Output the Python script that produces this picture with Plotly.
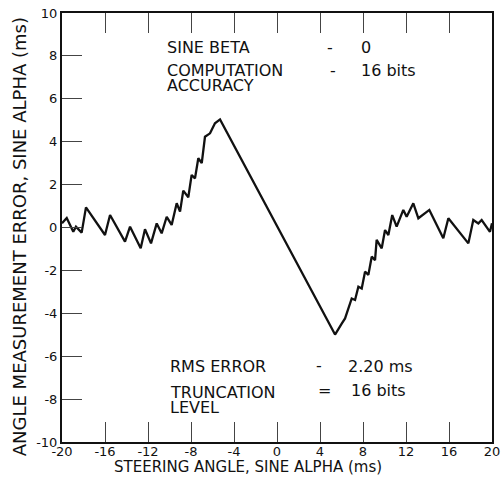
import plotly.graph_objects as go

steer = [-20.0, -19.56, -18.95, -18.7, -18.17, -17.77, -16.0, -15.53, -14.14, -13.67,
         -12.68, -12.28, -11.72, -11.19, -10.73, -10.26, -9.8, -9.33, -9.02, -8.72,
         -8.25, -7.94, -7.63, -7.32, -7.0, -6.7, -6.23, -5.77, -5.3,
         5.4, 6.02, 6.33, 6.95, 7.26, 7.57, 7.88, 8.19, 8.5, 8.81, 9.12, 9.27, 9.74,
         10.05, 10.36, 10.72, 11.13, 11.75, 12.06, 12.68, 13.15, 14.17, 15.47, 15.94,
         17.8, 18.26, 18.73, 19.04, 19.81, 20.0]
error = [0.2, 0.44, -0.2, 0.04, -0.24, 0.94, -0.35, 0.58, -0.66, 0.04,
         -0.97, -0.08, -0.74, 0.19, -0.27, 0.5, 0.12, 1.13, 0.74, 1.72,
         1.41, 2.45, 2.29, 3.23, 3.0, 4.23, 4.39, 4.86, 5.04,
         -4.99, -4.48, -4.24, -3.31, -3.38, -2.76, -2.84, -2.06, -2.21, -1.36, -1.52, -0.58, -0.97,
         -0.12, -0.35, 0.58, 0.04, 0.82, 0.5, 1.13, 0.43, 0.82, -0.5, 0.43,
         -0.74, 0.35, 0.19, 0.35, -0.2, 0.2]

x_ticks = [-20, -16, -12, -8, -4, 0, 4, 8, 12, 16, 20]
y_ticks = [-10, -8, -6, -4, -2, 0, 2, 4, 6, 8, 10]

x_title = "STEERING ANGLE, SINE ALPHA (ms)"
y_title = "ANGLE MEASUREMENT ERROR, SINE ALPHA (ms)"

FONT = "DejaVu Sans"
INK = "#111111"

fig = go.Figure()
fig.add_trace(go.Scatter(x=steer, y=error, mode="lines",
                         line=dict(color=INK, width=2.3), showlegend=False,
                         hoverinfo="skip"))

notes = [
    ("SINE BETA", -10.4, 8.41),
    ("-", 4.5, 8.41),
    ("0", 7.6, 8.41),
    ("COMPUTATION", -10.4, 7.3),
    ("ACCURACY", -10.4, 6.64),
    ("-", 4.7, 7.3),
    ("16 bits", 7.6, 7.3),
    ("RMS ERROR", -10.1, -6.5),
    ("-", 3.4, -6.45),
    ("2.20 ms", 6.4, -6.46),
    ("TRUNCATION", -10.1, -7.67),
    ("LEVEL", -10.1, -8.37),
    ("=", 3.6, -7.62),
    ("16 bits", 6.7, -7.62),
]
for txt, xv, yv in notes:
    fig.add_annotation(x=xv, y=yv, xref="x", yref="y", text=txt, showarrow=False,
                       xanchor="left", yanchor="middle",
                       font=dict(family=FONT, size=16, color=INK))

fig.add_annotation(x=0.433, y=-0.058, xref="paper", yref="paper", text=x_title,
                   showarrow=False, xanchor="center", yanchor="middle",
                   font=dict(family=FONT, size=15, color=INK))
fig.add_annotation(x=-0.097, y=0.478, xref="paper", yref="paper", text=y_title,
                   showarrow=False, xanchor="center", yanchor="middle", textangle=-90,
                   font=dict(family=FONT, size=18, color=INK))

axis_common = dict(showline=True, linecolor=INK, linewidth=2,
                   showgrid=False, zeroline=False, ticks="inside", ticklen=20,
                   tickwidth=1, tickcolor="#444444", automargin=False,
                   ticklabeloverflow="allow",
                   tickfont=dict(family=FONT, size=13, color=INK))

fig.update_xaxes(range=[-20, 20], tickvals=x_ticks, ticktext=[str(v) for v in x_ticks],
                 mirror="ticks", ticklabelstandoff=-4, **axis_common)
fig.update_yaxes(range=[-10, 10], tickvals=y_ticks, ticktext=[str(v) for v in y_ticks],
                 mirror=True, **axis_common)

fig.update_layout(width=502, height=482, margin=dict(l=62, r=10, t=13, b=40),
                  paper_bgcolor="white", plot_bgcolor="white")

# remove the default 8px page margin so the figure fills the window exactly
fig.write_html("out.html", config={"displayModeBar": False},
               post_script="document.body.style.margin='0';")
